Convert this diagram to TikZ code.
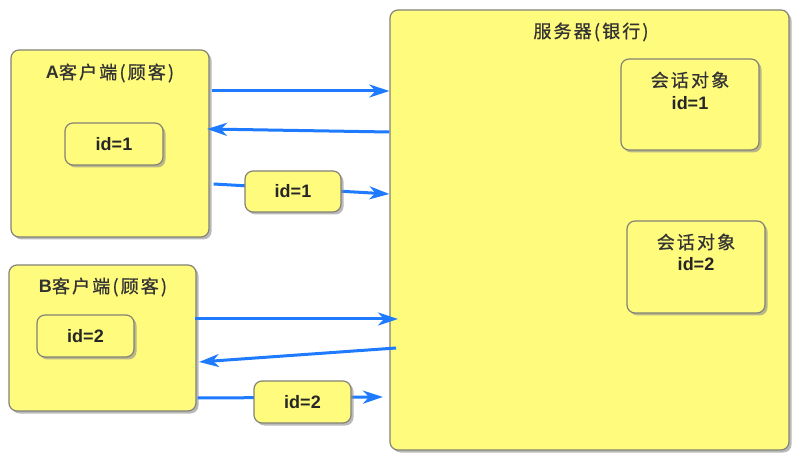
\documentclass[tikz,border=0pt]{standalone}
\usepackage{fontspec}
\setmainfont{Liberation Sans}
\newfontfamily\cjk{Noto Sans CJK SC}[LetterSpace=12,FakeBold=0.8]
\usetikzlibrary{shadows,arrows.meta}
\definecolor{boxfill}{RGB}{255,251,125}
\definecolor{boxline}{RGB}{130,130,120}
\definecolor{arrblue}{RGB}{30,122,255}
\tikzset{
  ybox/.style={draw=boxline, line width=1.2pt, fill=boxfill, rounded corners=8pt,
    drop shadow={shadow xshift=2.5pt, shadow yshift=-2.5pt, fill=black!45, opacity=0.6},
    inner sep=0pt},
  ttl/.style={text=black!80, font=\fontsize{18}{21}\selectfont\cjk, inner sep=0pt},
  idtxt/.style={text=black!85, font=\fontsize{18}{21}\selectfont\bfseries, inner sep=0pt},
  flow/.style={draw=arrblue, line width=3pt, -{Stealth[length=20pt,width=13pt,inset=6pt]}},
}
\begin{document}
\begin{tikzpicture}[x=1pt,y=-1pt]
\useasboundingbox (0,0) rectangle (801,462);
% main boxes
\node[ybox, minimum width=399pt, minimum height=440pt] (S) at (589.5,230) {};
\node[ybox, minimum width=198pt, minimum height=187pt] (A) at (110,143.5) {};
\node[ybox, minimum width=187pt, minimum height=146pt] (B) at (102.5,338) {};
% titles
\node[ttl] (St) at (591,32) {服务器(银行)};
\node[ttl] (At) at (110,73) {{\fontspec{Liberation Sans}\bfseries A}客户端(顾客)};
\node[ttl] (Bt) at (103,287) {{\fontspec{Liberation Sans}\bfseries B}客户端(顾客)};
% inner id boxes
\node[ybox, minimum width=98pt, minimum height=42pt, idtxt] (Aid) at (114,144) {id=1};
\node[ybox, minimum width=97pt, minimum height=42pt, idtxt] (Bid) at (85.5,336) {id=2};
% session objects
\node[ybox, minimum width=138pt, minimum height=91pt] (S1) at (690,104.5) {};
\node[ybox, minimum width=138pt, minimum height=92pt] (S2) at (696,267) {};
\node[ttl] (S1a) at (690,80) {会话对象};
\node[idtxt] (S1b) at (690,103) {id=1};
\node[ttl] (S2a) at (696,242) {会话对象};
\node[idtxt] (S2b) at (696,264) {id=2};
% arrows client A
\draw[flow] (A.east |- 0,91) ++(2,0) -- (S.west |- 0,91);
\draw[flow] (S.west |- 0,132) -- (207,129);
\draw[flow] (A.east |- 0,184) ++(4,0) -- (S.west |- 0,194);
% arrows client B
\draw[flow] (B.east |- 0,319) ++(-2,0) -- (398,319);
\draw[flow] (396,348) -- (199,362);
\draw[flow] (B.east |- 0,398) ++(1,0) -- (383,397);
% message boxes
\node[ybox, minimum width=96pt, minimum height=41pt, idtxt] (Am) at (293,191.5) {id=1};
\node[ybox, minimum width=97pt, minimum height=42pt, idtxt] (Bm) at (302.5,402) {id=2};
\end{tikzpicture}
\end{document}
